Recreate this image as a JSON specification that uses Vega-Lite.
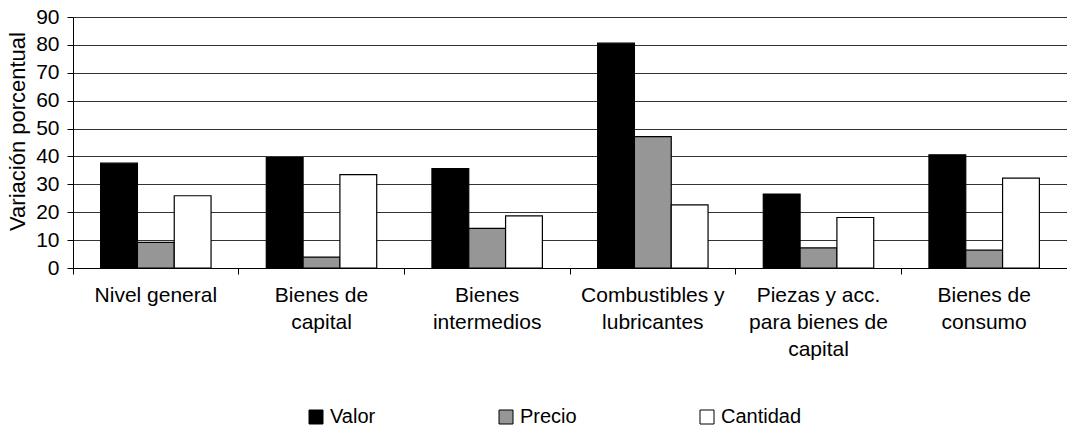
{
  "$schema": "https://vega.github.io/schema/vega-lite/v6.json",
  "width": 994,
  "height": 251,
  "autosize": {"type": "none"},
  "padding": {"left": 73, "top": 17, "right": 0, "bottom": 159},
  "background": "white",
  "config": {"font": "Liberation Sans", "view": {"stroke": null}},
  "data": {
    "values": [
      {"categoria": "Nivel general", "serie": "Valor", "valor": 37.6},
      {"categoria": "Nivel general", "serie": "Precio", "valor": 9.2},
      {"categoria": "Nivel general", "serie": "Cantidad", "valor": 25.9},
      {"categoria": "Bienes de capital", "serie": "Valor", "valor": 39.6},
      {"categoria": "Bienes de capital", "serie": "Precio", "valor": 3.9},
      {"categoria": "Bienes de capital", "serie": "Cantidad", "valor": 33.5},
      {"categoria": "Bienes intermedios", "serie": "Valor", "valor": 35.6},
      {"categoria": "Bienes intermedios", "serie": "Precio", "valor": 14.2},
      {"categoria": "Bienes intermedios", "serie": "Cantidad", "valor": 18.7},
      {"categoria": "Combustibles y lubricantes", "serie": "Valor", "valor": 80.6},
      {"categoria": "Combustibles y lubricantes", "serie": "Precio", "valor": 47.1},
      {"categoria": "Combustibles y lubricantes", "serie": "Cantidad", "valor": 22.6},
      {"categoria": "Piezas y acc. para bienes de capital", "serie": "Valor", "valor": 26.5},
      {"categoria": "Piezas y acc. para bienes de capital", "serie": "Precio", "valor": 7.2},
      {"categoria": "Piezas y acc. para bienes de capital", "serie": "Cantidad", "valor": 18.1},
      {"categoria": "Bienes de consumo", "serie": "Valor", "valor": 40.6},
      {"categoria": "Bienes de consumo", "serie": "Precio", "valor": 6.4},
      {"categoria": "Bienes de consumo", "serie": "Cantidad", "valor": 32.2}
    ]
  },
  "mark": {"type": "bar", "stroke": "black", "strokeWidth": 1.2},
  "encoding": {
    "x": {
      "field": "categoria",
      "type": "nominal",
      "sort": null,
      "scale": {"paddingInner": 0, "paddingOuter": 0},
      "axis": {
        "title": null,
        "bandPosition": 0,
        "labelAngle": 0,
        "domainColor": "black",
        "tickColor": "black",
        "tickSize": 6,
        "labelFontSize": 21,
        "labelColor": "black",
        "labelPadding": 10,
        "labelBaseline": "top",
        "labelLineHeight": 27,
        "labelLimit": 0,
        "labelExpr": "datum.value == 'Bienes de capital' ? ['Bienes de', 'capital'] : datum.value == 'Bienes intermedios' ? ['Bienes', 'intermedios'] : datum.value == 'Combustibles y lubricantes' ? ['Combustibles y', 'lubricantes'] : datum.value == 'Piezas y acc. para bienes de capital' ? ['Piezas y acc.', 'para bienes de', 'capital'] : datum.value == 'Bienes de consumo' ? ['Bienes de', 'consumo'] : datum.value"
      }
    },
    "xOffset": {
      "field": "serie",
      "type": "nominal",
      "sort": ["Valor", "Precio", "Cantidad"],
      "scale": {"paddingInner": 0, "paddingOuter": 0.75}
    },
    "y": {
      "field": "valor",
      "type": "quantitative",
      "scale": {"domain": [0, 90], "nice": false},
      "axis": {
        "values": [0, 10, 20, 30, 40, 50, 60, 70, 80, 90],
        "title": "Variación porcentual",
        "titleFontSize": 22,
        "titleFontWeight": "normal",
        "titleColor": "black",
        "titleX": -56,
        "titleY": 114,
        "titleAngle": -90,
        "titleBaseline": "middle",
        "titleAlign": "center",
        "labelFontSize": 21,
        "labelColor": "black",
        "labelPadding": 8,
        "tickSize": 6,
        "tickColor": "black",
        "domainColor": "black",
        "gridColor": "#333333",
        "gridOpacity": 1
      }
    },
    "fill": {
      "field": "serie",
      "type": "nominal",
      "scale": {"domain": ["Valor", "Precio", "Cantidad"], "range": ["#000000", "#969696", "#ffffff"]},
      "legend": {
        "title": null,
        "orient": "none",
        "legendX": 233,
        "legendY": 390,
        "direction": "horizontal",
        "labelFontSize": 20,
        "labelColor": "black",
        "symbolType": "square",
        "symbolSize": 196,
        "symbolStrokeColor": "black",
        "symbolStrokeWidth": 1,
        "columnPadding": 120,
        "labelOffset": 4
      }
    }
  }
}
